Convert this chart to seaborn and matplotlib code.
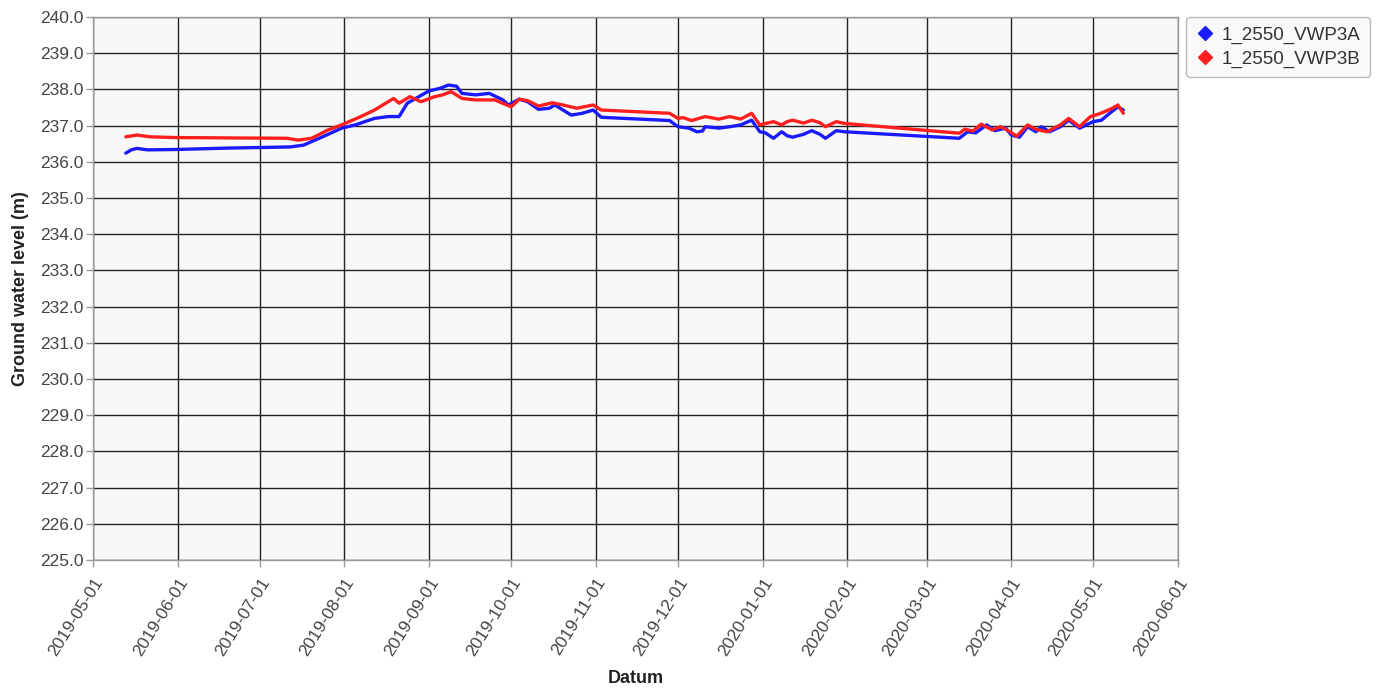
import matplotlib
matplotlib.use("Agg")
import matplotlib.pyplot as plt
import matplotlib.dates as mdates
from matplotlib.lines import Line2D
import pandas as pd
import seaborn as sns

# --- data -------------------------------------------------------------
dates_a = [
    "2019-05-13", "2019-05-15", "2019-05-17", "2019-05-21", "2019-05-31", "2019-06-20",
    "2019-07-12", "2019-07-17", "2019-07-24", "2019-07-31", "2019-08-05", "2019-08-10",
    "2019-08-12", "2019-08-17", "2019-08-21", "2019-08-24", "2019-09-01", "2019-09-05",
    "2019-09-08", "2019-09-11", "2019-09-13", "2019-09-18", "2019-09-23", "2019-09-28",
    "2019-09-30", "2019-10-04", "2019-10-07", "2019-10-11", "2019-10-15", "2019-10-17",
    "2019-10-20", "2019-10-23", "2019-10-27", "2019-10-31", "2019-11-03", "2019-11-28",
    "2019-12-01", "2019-12-05", "2019-12-08", "2019-12-10", "2019-12-11", "2019-12-16",
    "2019-12-20", "2019-12-24", "2019-12-28", "2019-12-31", "2020-01-02", "2020-01-05",
    "2020-01-08", "2020-01-10", "2020-01-12", "2020-01-16", "2020-01-19", "2020-01-22",
    "2020-01-24", "2020-01-28", "2020-01-31", "2020-03-13", "2020-03-16", "2020-03-19",
    "2020-03-23", "2020-03-26", "2020-03-30", "2020-04-01", "2020-04-04", "2020-04-07",
    "2020-04-10", "2020-04-12", "2020-04-15", "2020-04-19", "2020-04-22", "2020-04-26",
    "2020-05-01", "2020-05-04", "2020-05-07", "2020-05-10", "2020-05-12",
]
level_a = [
    236.24, 236.33, 236.37, 236.33, 236.34, 236.38,
    236.41, 236.46, 236.69, 236.93, 237.02, 237.15,
    237.20, 237.25, 237.25, 237.62, 237.96, 238.03,
    238.12, 238.09, 237.89, 237.85, 237.89, 237.71,
    237.57, 237.73, 237.66, 237.45, 237.48, 237.57,
    237.43, 237.29, 237.34, 237.43, 237.23, 237.14,
    236.97, 236.93, 236.83, 236.85, 236.97, 236.93,
    236.97, 237.02, 237.15, 236.83, 236.80, 236.65,
    236.83, 236.72, 236.68, 236.76, 236.86, 236.76,
    236.65, 236.86, 236.83, 236.65, 236.83, 236.80,
    237.02, 236.86, 236.93, 236.74, 236.68, 236.97,
    236.83, 236.97, 236.83, 236.97, 237.15, 236.93,
    237.11, 237.15, 237.34, 237.52, 237.43,
]

dates_b = [
    "2019-05-13", "2019-05-17", "2019-05-22", "2019-05-31", "2019-06-20", "2019-07-11",
    "2019-07-15", "2019-07-20", "2019-07-26", "2019-07-31", "2019-08-07", "2019-08-12",
    "2019-08-17", "2019-08-19", "2019-08-21", "2019-08-25", "2019-08-29", "2019-09-03",
    "2019-09-06", "2019-09-09", "2019-09-13", "2019-09-18", "2019-09-25", "2019-10-01",
    "2019-10-04", "2019-10-07", "2019-10-11", "2019-10-16", "2019-10-20", "2019-10-25",
    "2019-10-31", "2019-11-03", "2019-11-28", "2019-12-01", "2019-12-03", "2019-12-06",
    "2019-12-11", "2019-12-16", "2019-12-20", "2019-12-24", "2019-12-28", "2019-12-31",
    "2020-01-05", "2020-01-08", "2020-01-10", "2020-01-12", "2020-01-16", "2020-01-19",
    "2020-01-22", "2020-01-24", "2020-01-28", "2020-01-31", "2020-03-13", "2020-03-15",
    "2020-03-18", "2020-03-21", "2020-03-25", "2020-03-28", "2020-03-30", "2020-04-03",
    "2020-04-07", "2020-04-10", "2020-04-14", "2020-04-19", "2020-04-22", "2020-04-26",
    "2020-04-30", "2020-05-03", "2020-05-05", "2020-05-08", "2020-05-10", "2020-05-12",
]
level_b = [
    236.69, 236.74, 236.69, 236.67, 236.66, 236.65,
    236.60, 236.65, 236.88, 237.02, 237.25, 237.43,
    237.66, 237.75, 237.62, 237.80, 237.66, 237.80,
    237.85, 237.94, 237.75, 237.71, 237.71, 237.52,
    237.73, 237.69, 237.54, 237.63, 237.57, 237.48,
    237.57, 237.43, 237.34, 237.20, 237.22, 237.14,
    237.25, 237.18, 237.25, 237.18, 237.34, 237.02,
    237.11, 237.02, 237.11, 237.15, 237.07, 237.15,
    237.08, 236.97, 237.11, 237.06, 236.79, 236.90,
    236.85, 237.04, 236.88, 236.97, 236.90, 236.71,
    237.02, 236.90, 236.83, 237.02, 237.20, 236.97,
    237.25, 237.32, 237.38, 237.48, 237.57, 237.34,
]

series_names = ["1_2550_VWP3A", "1_2550_VWP3B"]
series_colors = ["#1a1aff", "#ff1f1f"]

y_ticks = [225.0 + i for i in range(16)]
x_ticks = pd.date_range("2019-05-01", "2020-06-01", freq="MS")

df = pd.concat([
    pd.DataFrame({"Datum": pd.to_datetime(dates_a), "level": level_a, "series": series_names[0]}),
    pd.DataFrame({"Datum": pd.to_datetime(dates_b), "level": level_b, "series": series_names[1]}),
], ignore_index=True)

# --- styling ----------------------------------------------------------
sns.set_style("whitegrid", {
    "axes.facecolor": "#f8f8f8",
    "axes.edgecolor": "#9a9a9a",
    "grid.color": "#222222",
    "xtick.bottom": True,
    "ytick.left": True,
})
plt.rcParams["font.family"] = ["Liberation Sans", "DejaVu Sans"]

fig = plt.figure(figsize=(13.8, 6.92), dpi=100)
ax = fig.add_axes([0.0674, 0.1908, 0.7862, 0.7846])

sns.lineplot(data=df, x="Datum", y="level", hue="series", hue_order=series_names,
             palette=series_colors, linewidth=2.4, legend=False, ax=ax,
             estimator=None, sort=True)

ax.set_xlim(x_ticks[0], x_ticks[-1])
ax.set_ylim(225.0, 240.0)
ax.set_yticks(y_ticks)
ax.set_yticklabels([f"{v:.1f}" for v in y_ticks])
ax.set_xticks(x_ticks)
ax.xaxis.set_major_formatter(mdates.DateFormatter("%Y-%m-%d"))
ax.grid(True, color="#222222", linewidth=1.0)

for spine in ax.spines.values():
    spine.set_color("#9a9a9a")
    spine.set_linewidth(1.0)

ax.tick_params(axis="both", colors="#9a9a9a", labelcolor="#444444",
               labelsize=12.5, length=5, width=1, direction="out", pad=2)
ax.tick_params(axis="x", pad=6)
plt.setp(ax.get_xticklabels(), rotation=58, ha="right", rotation_mode="anchor")

ax.set_xlabel("Datum", fontsize=13, fontweight="bold", color="#222222", labelpad=8)
ax.set_ylabel("Ground water level (m)", fontsize=13, fontweight="bold", color="#222222", labelpad=8)

handles = [Line2D([], [], marker="D", linestyle="none", markersize=7,
                  markerfacecolor=c, markeredgecolor=c) for c in series_colors]
leg = fig.legend(handles, series_names, loc="upper left",
                 bbox_to_anchor=(1186 / 1380, 1 - 17 / 692),
                 fontsize=13.5, frameon=True, fancybox=True, handletextpad=0.4,
                 handlelength=1.0, borderpad=0.5, labelspacing=0.35,
                 borderaxespad=0, labelcolor="#333333")
leg.get_frame().set_edgecolor("#aaaaaa")
leg.get_frame().set_facecolor("#f8f8f8")

fig.savefig("out.png", dpi=100)
